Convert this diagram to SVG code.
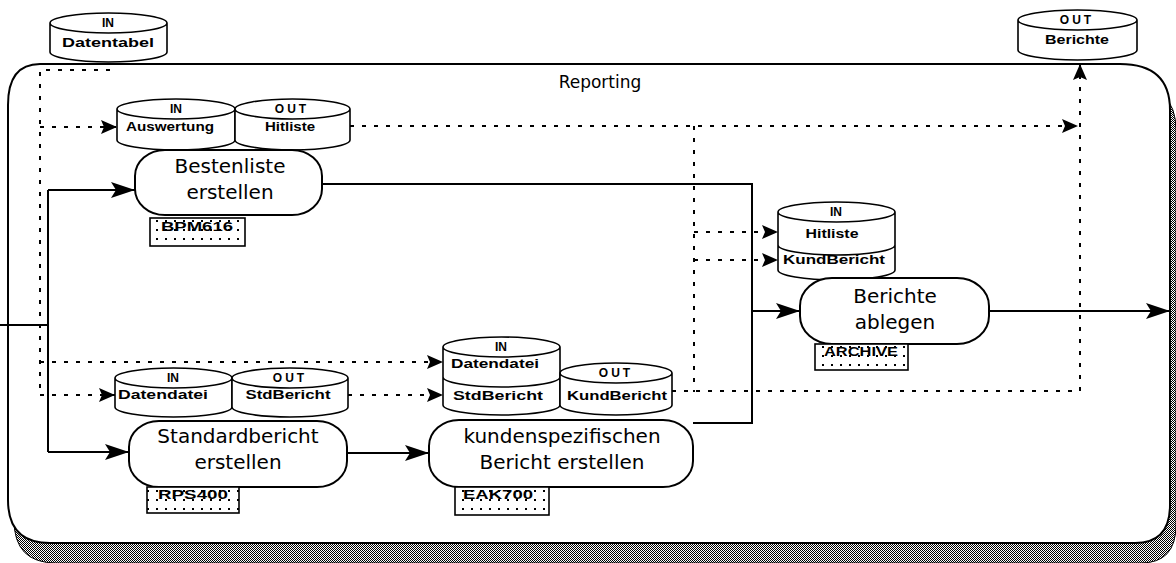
<svg xmlns="http://www.w3.org/2000/svg" width="1176" height="563" viewBox="0 0 1176 563">
<defs>
<style>
.frame{fill:#fff;stroke:#000;stroke-width:2}
.store{fill:#fff;stroke:#000;stroke-width:1.6}
.proc{fill:#fff;stroke:#000;stroke-width:2}
.lbl{fill:url(#dots);stroke:#000;stroke-width:1.6}
.solid{fill:none;stroke:#000;stroke-width:2}
.dot{fill:none;stroke:#000;stroke-width:2;stroke-dasharray:4 8}
.pt{font-family:"DejaVu Sans",sans-serif;font-size:20px;text-anchor:middle;fill:#000}
.st{font-family:"Liberation Sans",Arial,sans-serif;font-size:12px;font-weight:bold;text-anchor:middle;fill:#000}
.lt{font-family:"Liberation Sans",Arial,sans-serif;font-size:13px;font-weight:bold;text-anchor:middle;fill:#000}
.tt{font-family:"DejaVu Sans",sans-serif;font-size:17px;text-anchor:middle;fill:#000}
</style>
<pattern id="checker" width="2" height="2" patternUnits="userSpaceOnUse">
<rect width="2" height="2" fill="#fff"/>
<rect width="1" height="1" fill="#000"/>
<rect x="1" y="1" width="1" height="1" fill="#000"/>
</pattern>
<pattern id="dots" width="9" height="9" patternUnits="userSpaceOnUse">
<rect width="9" height="9" fill="#fff"/>
<rect x="3" y="4" width="2" height="2" fill="#000"/>
</pattern>
<marker id="big" viewBox="0 0 24 16" refX="24" refY="8" markerWidth="24" markerHeight="16" markerUnits="userSpaceOnUse" orient="auto">
<path d="M0,0 L24,8 L0,16 L5,8 Z" fill="#000"/>
</marker>
<marker id="small" viewBox="0 0 16 14" refX="16" refY="7" markerWidth="16" markerHeight="14" markerUnits="userSpaceOnUse" orient="auto">
<path d="M0,0 L16,7 L0,14 L3,7 Z" fill="#000"/>
</marker>
</defs>

<g id="frame">
<path d="M46,84 L1126,84 Q1176,84 1176,130 L1176,525 Q1176,563 1141,563 L56,563 Q14,563 14,520 L14,125 Q14,84 46,84 Z" fill="url(#checker)" stroke="#000" stroke-width="1"/>
<path class="frame" d="M40,64 L1120,64 Q1170,64 1170,110 L1170,505 Q1170,543 1135,543 L50,543 Q8,543 8,500 L8,105 Q8,64 40,64 Z"/>
<text class="tt" x="600" y="88">Reporting</text>
</g>

<g id="connectors">
<path class="solid" d="M0,325 H48"/>
<path class="solid" d="M48,190 V452"/>
<path class="solid" d="M48,190 H135" marker-end="url(#big)"/>
<path class="solid" d="M48,452 H129" marker-end="url(#big)"/>
<path class="solid" d="M347,453 H429" marker-end="url(#big)"/>
<path class="solid" d="M322,184 H752 V423 H693"/>
<path class="solid" d="M752,311 H800" marker-end="url(#big)"/>
<path class="solid" d="M989,311 H1170" marker-end="url(#big)"/>

<path class="dot" d="M110,70 H40 V395"/>
<path class="dot" d="M40,127 H117" marker-end="url(#small)"/>
<path class="dot" d="M40,362 H443" marker-end="url(#small)"/>
<path class="dot" d="M40,395 H115" marker-end="url(#small)"/>
<path class="dot" d="M350,126 H1078" marker-end="url(#small)"/>
<path class="dot" d="M694,126 V392"/>
<path class="dot" d="M694,232 H778" marker-end="url(#small)"/>
<path class="dot" d="M694,260 H778" marker-end="url(#small)"/>
<path class="dot" d="M348,395 H443" marker-end="url(#small)"/>
<path class="dot" d="M672,391 H1080 V64" marker-end="url(#small)"/>
</g>

<g id="store-in-datendatei-top">
<path class="store" d="M50,23 A58.5,10 0 0 1 167,23 A58.5,10 0 0 1 50,23 Z M50,23 L50,52 A58.5,10 0 0 0 167,52 L167,23"/>
<text class="st" x="108" y="27">IN</text>
<text class="st" x="108" y="47" textLength="92" lengthAdjust="spacingAndGlyphs">Datentabel</text>
</g>

<g id="store-out-berichte">
<path class="store" d="M1018,20 A59.5,10 0 0 1 1137,20 A59.5,10 0 0 1 1018,20 Z M1018,20 L1018,50 A59.5,10 0 0 0 1137,50 L1137,20"/>
<text class="st" x="1077" y="24" letter-spacing="3">OUT</text>
<text class="st" x="1077" y="44" textLength="64" lengthAdjust="spacingAndGlyphs">Berichte</text>
</g>

<g id="store-in-auswertung">
<path class="store" d="M117,109 A59,10 0 0 1 235,109 A59,10 0 0 1 117,109 Z M117,109 L117,140 A59,10 0 0 0 235,140 L235,109"/>
<text class="st" x="176" y="113">IN</text>
<text class="st" x="170" y="131" textLength="88" lengthAdjust="spacingAndGlyphs">Auswertung</text>
</g>

<g id="store-out-hitliste">
<path class="store" d="M235,109 A57.5,10 0 0 1 350,109 A57.5,10 0 0 1 235,109 Z M235,109 L235,140 A57.5,10 0 0 0 350,140 L350,109"/>
<text class="st" x="292" y="113" letter-spacing="3">OUT</text>
<text class="st" x="290" y="131" textLength="50" lengthAdjust="spacingAndGlyphs">Hitliste</text>
</g>

<g id="store-in-datendatei-std">
<path class="store" d="M115,378 A58.5,10 0 0 1 232,378 A58.5,10 0 0 1 115,378 Z M115,378 L115,407 A58.5,10 0 0 0 232,407 L232,378"/>
<text class="st" x="173" y="382">IN</text>
<text class="st" x="163" y="399" textLength="90" lengthAdjust="spacingAndGlyphs">Datendatei</text>
</g>

<g id="store-out-stdbericht">
<path class="store" d="M232,378 A58,10 0 0 1 348,378 A58,10 0 0 1 232,378 Z M232,378 L232,407 A58,10 0 0 0 348,407 L348,378"/>
<text class="st" x="290" y="382" letter-spacing="3">OUT</text>
<text class="st" x="288" y="399" textLength="85" lengthAdjust="spacingAndGlyphs">StdBericht</text>
</g>

<g id="store-in-kund">
<path class="store" d="M443,347 A58.5,10 0 0 1 560,347 A58.5,10 0 0 1 443,347 Z M443,347 L443,405 A58.5,10 0 0 0 560,405 L560,347 M443,377 A58.5,10 0 0 0 560,377"/>
<text class="st" x="501" y="351">IN</text>
<text class="st" x="495" y="368" textLength="88" lengthAdjust="spacingAndGlyphs">Datendatei</text>
<text class="st" x="498" y="400" textLength="90" lengthAdjust="spacingAndGlyphs">StdBericht</text>
</g>

<g id="store-out-kundbericht">
<path class="store" d="M560,373 A56,10 0 0 1 672,373 A56,10 0 0 1 560,373 Z M560,373 L560,405 A56,10 0 0 0 672,405 L672,373"/>
<text class="st" x="616" y="377" letter-spacing="3">OUT</text>
<text class="st" x="617" y="400" textLength="100" lengthAdjust="spacingAndGlyphs">KundBericht</text>
</g>

<g id="store-in-berichte">
<path class="store" d="M778,212 A58.5,10 0 0 1 895,212 A58.5,10 0 0 1 778,212 Z M778,212 L778,270 A58.5,10 0 0 0 895,270 L895,212 M778,245 A58.5,10 0 0 0 895,245"/>
<text class="st" x="836" y="216">IN</text>
<text class="st" x="832" y="238" textLength="53" lengthAdjust="spacingAndGlyphs">Hitliste</text>
<text class="st" x="834" y="264" textLength="102" lengthAdjust="spacingAndGlyphs">KundBericht</text>
</g>

<g id="proc-bestenliste">
<rect class="proc" x="135" y="150" width="187" height="65" rx="30" ry="26"/>
<text class="pt" x="230" y="173">Bestenliste</text>
<text class="pt" x="230" y="199">erstellen</text>
<rect class="lbl" x="150" y="218" width="95" height="28"/>
<text class="lt" x="197" y="231" textLength="72" lengthAdjust="spacingAndGlyphs">BPM616</text>
</g>

<g id="proc-standardbericht">
<rect class="proc" x="129" y="421" width="218" height="66" rx="30" ry="26"/>
<text class="pt" x="238" y="443">Standardbericht</text>
<text class="pt" x="238" y="469">erstellen</text>
<rect class="lbl" x="147" y="487" width="92" height="26"/>
<text class="lt" x="193" y="499" textLength="70" lengthAdjust="spacingAndGlyphs">RPS400</text>
</g>

<g id="proc-kundenspezifisch">
<rect class="proc" x="429" y="420" width="264" height="67" rx="30" ry="26"/>
<text class="pt" x="562" y="443">kundenspezifischen</text>
<text class="pt" x="562" y="469">Bericht erstellen</text>
<rect class="lbl" x="455" y="487" width="94" height="28"/>
<text class="lt" x="498" y="499" textLength="70" lengthAdjust="spacingAndGlyphs">EAK700</text>
</g>

<g id="proc-berichte-ablegen">
<rect class="proc" x="800" y="278" width="189" height="66" rx="32" ry="28"/>
<text class="pt" x="895" y="303">Berichte</text>
<text class="pt" x="895" y="329">ablegen</text>
<rect class="lbl" x="815" y="344" width="93" height="26"/>
<text class="lt" x="861" y="356" textLength="74" lengthAdjust="spacingAndGlyphs">ARCHIVE</text>
</g>
</svg>
